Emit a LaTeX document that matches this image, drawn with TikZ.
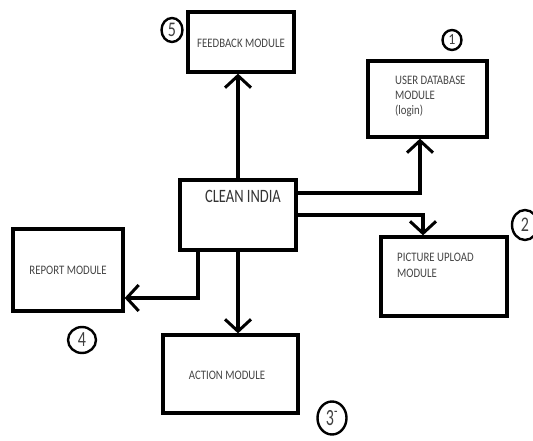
\documentclass[tikz,border=0pt]{standalone}
\usepackage{fontspec}
\setmainfont{Carlito}
\usetikzlibrary{arrows.meta,shapes.geometric}
\definecolor{labelgray}{HTML}{454545}
\newcommand{\tallbox}[2]{\scalebox{1}[#1]{#2}}
\tikzset{
  box/.style={draw=black, line width=3.3pt, fill=white, rectangle, inner sep=0pt},
  lbl/.style={text=labelgray, font=\fontsize{10.8}{14}\selectfont, inner sep=0pt},
  title/.style={text=black!80, font=\fontsize{14.5}{17}\selectfont, inner sep=0pt},
  num/.style={draw=black, line width=2.4pt, ellipse, inner sep=-2pt,
              font=\fontsize{16}{18}\selectfont, text=black!75},
  arr/.style={line width=3.3pt, -{Straight Barb[length=12pt,width=26pt,line width=3pt]}}
}
\begin{document}
\begin{tikzpicture}[x=1pt,y=-1pt]
\useasboundingbox (0,0) rectangle (533,441);

% module boxes
\node[box, minimum width=106pt, minimum height=60pt] (fb)  at (241,42)    {};
\node[box, minimum width=119pt, minimum height=76pt] (udb) at (427.5,99)  {};
\node[box, minimum width=116pt, minimum height=70pt] (cl)  at (238,215)   {};
\node[box, minimum width=126pt, minimum height=79pt] (pu)  at (444,276.5) {};
\node[box, minimum width=110pt, minimum height=82pt] (rep) at (68,270)    {};
\node[box, minimum width=135pt, minimum height=78pt] (act) at (230.5,374) {};

% box labels
\node[lbl] (fbt) at (241,43) {\tallbox{1.2}{FEEDBACK MODULE}};
\node[lbl, align=left, anchor=north west] (udbt) at (395,76)
  {\tallbox{1.2}{USER DATABASE}\\[1pt]\tallbox{1.2}{MODULE}\\[1pt]\tallbox{1.2}{(login)}};
\node[title] (clt) at (243,196) {\tallbox{1.3}{CLEAN INDIA}};
\node[lbl, align=left, anchor=north west] (put) at (397,253)
  {\tallbox{1.2}{PICTURE UPLOAD}\\[2pt]\tallbox{1.2}{MODULE}};
\node[lbl] (rept) at (68,270) {\tallbox{1.2}{REPORT MODULE}};
\node[lbl] (actt) at (227,375) {\tallbox{1.2}{ACTION MODULE}};

% connectors
\draw[arr] (cl.north) -- (cl.north |- fb.south);
\draw[arr] ([yshift=22pt]cl.east) -| ([xshift=-7.5pt]udb.south);
\draw[arr] (cl.east) -| ([xshift=-21pt]pu.north);
\draw[arr] ([xshift=-40pt]cl.south) |- ([yshift=-28pt]rep.east);
\draw[arr] (cl.south) -- (cl.south |- act.north);

% numbered markers
\node[num, minimum width=21pt, minimum height=24pt] (n5) at (172,30)  {\tallbox{1.3}{5}};
\node[num, minimum width=19pt, minimum height=20pt, font=\fontsize{14}{16}\selectfont]
  (n1) at (452,40) {\tallbox{1.1}{1}};
\node[num, minimum width=26pt, minimum height=30pt] (n2) at (525,225) {\tallbox{1.3}{2}};
\node[num, minimum width=28pt, minimum height=26pt] (n4) at (82,340)  {\tallbox{1.35}{4}};
\node[num, minimum width=29pt, minimum height=33pt] (n3) at (332,418) {\tallbox{1.45}{3\textsuperscript{-}}};
\end{tikzpicture}
\end{document}
